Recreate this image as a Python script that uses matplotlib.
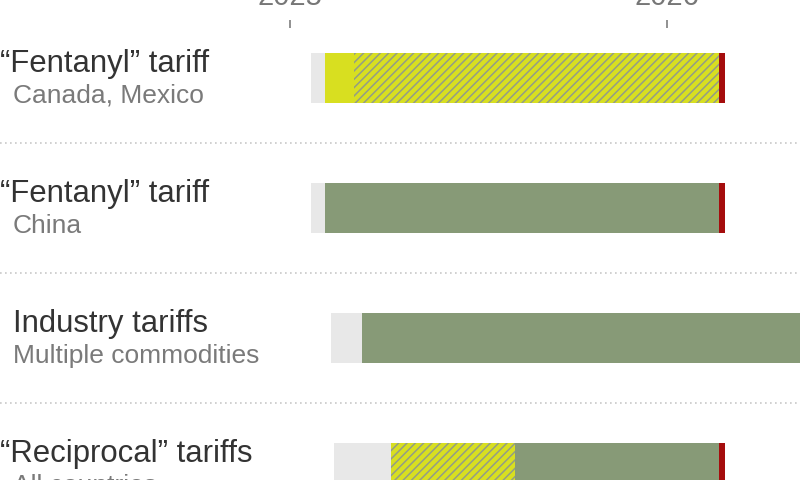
import matplotlib
matplotlib.use("Agg")
import matplotlib.pyplot as plt
import matplotlib.dates as mdates
import datetime as dt

plt.rcParams['font.family'] = ['Liberation Sans', 'DejaVu Sans']
plt.rcParams['hatch.linewidth'] = 1.1

# ---- data ----
titles = ['\u201cFentanyl\u201d tariff', '\u201cFentanyl\u201d tariff',
          'Industry tariffs', '\u201cReciprocal\u201d tariffs']
subtitles = ['Canada, Mexico', 'China', 'Multiple commodities', 'All countries']
title_indent = [0, 0, 13, 0]

seg_row = [0, 0, 0, 0,
           1, 1, 1,
           2, 2,
           3, 3, 3, 3]
seg_start = ['2025-01-21', '2025-02-04', '2025-03-04', '2026-02-20',
             '2025-01-21', '2025-02-04', '2026-02-20',
             '2025-02-10', '2025-03-12',
             '2025-02-13', '2025-04-09', '2025-08-07', '2026-02-20']
seg_end = ['2025-02-04', '2025-03-04', '2026-02-20', '2026-02-26',
           '2025-02-04', '2026-02-20', '2026-02-26',
           '2025-03-12', '2026-12-31',
           '2025-04-09', '2025-08-07', '2026-02-20', '2026-02-26']
seg_status = ['announced', 'paused', 'partial', 'struck',
              'announced', 'effect', 'struck',
              'announced', 'effect',
              'announced', 'partial', 'effect', 'struck']

year_ticks = ['2025-01-01', '2026-01-01']
year_labels = ['2025', '2026']

# ---- styles ----
status_color = {'announced': '#e8e8e8', 'paused': '#d8df20', 'partial': '#d8df20',
                'effect': '#879a77', 'struck': '#a50d0d'}
status_hatch = {'partial': '////'}

fig = plt.figure(figsize=(8, 4.8), dpi=100)
ax = fig.add_axes([0, 0, 1, (480 - 28) / 480])

def d(s):
    return mdates.date2num(dt.datetime.strptime(s, '%Y-%m-%d'))

for r, s, e, st in zip(seg_row, seg_start, seg_end, seg_status):
    h = status_hatch.get(st)
    ax.barh(r, d(e) - d(s), left=d(s), height=0.385,
            color=status_color[st], hatch=h,
            edgecolor='#939d86' if h else status_color[st],
            linewidth=0)

for i in range(len(titles) - 1):
    ax.axhline(i + 0.5, color='#c8c8c8', lw=1.2, linestyle=(0, (1, 2)))

for i, (t, sub, ind) in enumerate(zip(titles, subtitles, title_indent)):
    ax.annotate(t, xy=(0, i), xycoords=('figure pixels', 'data'),
                xytext=(ind, 6), textcoords='offset pixels',
                va='baseline', ha='left', fontsize=22.4, color='#333333',
                annotation_clip=False)
    ax.annotate(sub, xy=(0, i), xycoords=('figure pixels', 'data'),
                xytext=(13, -25), textcoords='offset pixels',
                va='baseline', ha='left', fontsize=19, color='#7a7a7a',
                annotation_clip=False)

x25 = d(year_ticks[0])
px_per_day = 377 / 365.0
ax.set_xlim(x25 - 290 / px_per_day, x25 + 510 / px_per_day)
ax.set_ylim((480 - 78) / 130, (28 - 78) / 130)

ax.xaxis.tick_top()
ax.set_xticks([d(t) for t in year_ticks])
ax.set_xticklabels(year_labels)
ax.tick_params(axis='x', length=6, width=1.3, color='#888888', pad=6.5,
               labelsize=21, labelcolor='#777777', direction='out')
ax.set_yticks([])
for sp in ax.spines.values():
    sp.set_visible(False)

fig.savefig('out.png', dpi=100)
